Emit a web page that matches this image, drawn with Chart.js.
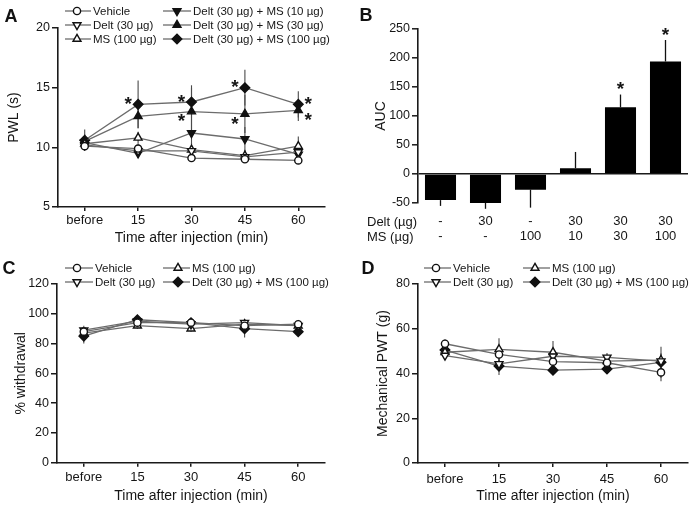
<!DOCTYPE html>
<html>
<head>
<meta charset="utf-8">
<script src="https://cdn.jsdelivr.net/npm/chart.js@4.4.1/dist/chart.umd.min.js"></script>
<style>
  html, body { margin: 0; padding: 0; background: #fff; }
  #wrap { position: relative; width: 696px; height: 508px; }
  canvas { position: absolute; }
</style>
</head>
<body>
<div id="wrap">
  <canvas id="chart-a" width="348" height="254" style="left:0;top:0"></canvas>
  <canvas id="chart-b" width="348" height="254" style="left:348px;top:0"></canvas>
  <canvas id="chart-c" width="348" height="254" style="left:0;top:254px"></canvas>
  <canvas id="chart-d" width="348" height="254" style="left:348px;top:254px"></canvas>
</div>
<script>
// categorias (tempo)
const timeLabels = ['before', '15', '30', '45', '60'];

// A - PWL (s), média e EPM
const pwlVehicle = [10.1, 9.9, 9.1, 9.0, 8.9];
const pwlVehicleSem = [0.3, 0.4, 0.3, 0.3, 0.3];
const pwlDelt = [10.2, 9.7, 9.7, 9.2, 9.6];
const pwlDeltSem = [0.4, 0.4, 0.5, 0.5, 0.5];
const pwlMs = [10.3, 10.8, 9.8, 9.3, 10.1];
const pwlMsSem = [0.4, 0.5, 0.6, 0.5, 0.8];
const pwlDeltMs10 = [10.4, 9.5, 11.2, 10.7, 9.4];
const pwlDeltMs10Sem = [0.5, 0.4, 1.2, 1.0, 0.6];
const pwlDeltMs30 = [10.5, 12.6, 13.0, 12.8, 13.1];
const pwlDeltMs30Sem = [0.6, 1.0, 2.0, 1.6, 0.9];
const pwlDeltMs100 = [10.6, 13.6, 13.8, 15.0, 13.6];
const pwlDeltMs100Sem = [0.9, 2.0, 1.4, 1.5, 1.1];
const pwlSigMs30 = [0, 0, 1, 1, 1];
const pwlSigMs100 = [0, 1, 1, 1, 1];

// B - AUC
const aucDelt = ['-', '30', '-', '30', '30', '30'];
const aucMs = ['-', '-', '100', '10', '30', '100'];
const aucValues = [-45, -50, -27, 10, 115, 194];
const aucSem = [10, 10, 31, 28, 22, 37];
const aucSig = [0, 0, 0, 0, 1, 1];

// C - % withdrawal
const wdVehicle = [88, 94, 94, 92, 93];
const wdVehicleSem = [3, 2, 2, 2, 2];
const wdDelt = [89, 95, 93, 94, 92];
const wdDeltSem = [3, 2, 3, 2, 2];
const wdMs = [87, 92, 90, 93, 92];
const wdMsSem = [3, 2, 2, 3, 2];
const wdDeltMs100 = [85, 96, 94, 90, 88];
const wdDeltMs100Sem = [5, 2, 3, 6, 2];

// D - Mechanical PWT (g)
const pwtVehicle = [53.3, 48.5, 45.3, 44.8, 40.5];
const pwtVehicleSem = [2, 3, 3, 2, 4];
const pwtDelt = [48.0, 44.3, 47.7, 47.2, 45.5];
const pwtDeltSem = [2, 3, 3, 2, 3];
const pwtMs = [49.5, 50.8, 49.5, 45.5, 46.0];
const pwtMsSem = [2, 5, 5, 3, 3];
const pwtDeltMs100 = [50.5, 43.3, 41.5, 42.0, 45.0];
const pwtDeltMs100Sem = [3, 4, 2, 2, 7];

Chart.defaults.font.family = "'Liberation Sans', Arial, Helvetica, sans-serif";
Chart.defaults.color = '#161616';
const axisColor = '#1a1a1a';
const lineColor = '#6c6c6c';
const markColor = '#111';

const markers = {
  vehicle:   { pointStyle: 'circle',   rotation: 0,   radius: 3.6, fill: '#fff' },
  delt:      { pointStyle: 'triangle', rotation: 180, radius: 4.6, fill: '#fff' },
  ms:        { pointStyle: 'triangle', rotation: 0,   radius: 4.6, fill: '#fff' },
  deltMs10:  { pointStyle: 'triangle', rotation: 180, radius: 4.6, fill: markColor },
  deltMs30:  { pointStyle: 'triangle', rotation: 0,   radius: 4.6, fill: markColor },
  deltMs100: { pointStyle: 'rectRot',  rotation: 0,   radius: 4.8, fill: markColor }
};

function lineSet(label, data, sem, mk, extra) {
  return Object.assign({
    label: label,
    data: data,
    sem: sem,
    borderColor: lineColor,
    borderWidth: 1.3,
    pointStyle: mk.pointStyle,
    pointRotation: mk.rotation,
    pointRadius: mk.radius,
    pointBackgroundColor: mk.fill,
    pointBorderColor: markColor,
    pointBorderWidth: 1.4,
    tension: 0,
    fill: false
  }, extra || {});
}

// barras de erro (EPM)
const errorBars = {
  id: 'errorBars',
  beforeDatasetsDraw(chart, args, opts) {
    const ctx = chart.ctx;
    const y = chart.scales.y;
    chart.data.datasets.forEach((ds, i) => {
      if (!ds.sem) return;
      const meta = chart.getDatasetMeta(i);
      ctx.save();
      ctx.strokeStyle = opts.color || '#444';
      ctx.lineWidth = opts.width || 1.1;
      meta.data.forEach((el, j) => {
        const v = ds.data[j];
        const e = ds.sem[j];
        let lo = v - e;
        let hi = v + e;
        if (opts.oneSided) {
          if (v >= 0) lo = v; else hi = v;
        }
        ctx.beginPath();
        ctx.moveTo(el.x, y.getPixelForValue(lo));
        ctx.lineTo(el.x, y.getPixelForValue(hi));
        ctx.stroke();
      });
      ctx.restore();
    });
  }
};

// asteriscos de significância
const sigStars = {
  id: 'sigStars',
  afterDatasetsDraw(chart, args, opts) {
    const ctx = chart.ctx;
    const y = chart.scales.y;
    ctx.save();
    ctx.font = 'bold 19px ' + Chart.defaults.font.family;
    ctx.fillStyle = '#161616';
    ctx.textAlign = 'center';
    ctx.textBaseline = 'middle';
    chart.data.datasets.forEach((ds, i) => {
      if (!ds.sig) return;
      const meta = chart.getDatasetMeta(i);
      meta.data.forEach((el, j) => {
        if (!ds.sig[j]) return;
        let sx, sy;
        if (opts.mode === 'bar') {
          sx = el.x;
          sy = y.getPixelForValue(ds.data[j] + ds.sem[j]) - 9;
        } else {
          sx = el.x + (j === ds.data.length - 1 ? 10 : -10);
          sy = el.y + (ds.starDy || 0);
        }
        ctx.fillText('*', sx, sy + 4.5);
      });
    });
    ctx.restore();
  }
};

// legenda no estilo GraphPad (linha - marcador - linha)
const graphLegend = {
  id: 'graphLegend',
  afterDraw(chart, args, opts) {
    if (!opts.cols) return;
    const ctx = chart.ctx;
    ctx.save();
    ctx.font = '11.5px ' + Chart.defaults.font.family;
    ctx.textBaseline = 'middle';
    ctx.textAlign = 'left';
    chart.data.datasets.forEach((ds, i) => {
      const col = opts.cols[Math.floor(i / opts.rows.length)];
      const yy = opts.rows[i % opts.rows.length];
      ctx.strokeStyle = lineColor;
      ctx.lineWidth = 1.3;
      ctx.beginPath();
      ctx.moveTo(col.x0, yy);
      ctx.lineTo(col.x1, yy);
      ctx.stroke();
      ctx.fillStyle = ds.pointBackgroundColor;
      ctx.strokeStyle = markColor;
      ctx.lineWidth = 1.4;
      Chart.helpers.drawPoint(ctx, {
        pointStyle: ds.pointStyle,
        rotation: ds.pointRotation,
        radius: ds.pointRadius,
        borderWidth: 1.4
      }, col.mx, yy);
      ctx.fillStyle = '#161616';
      ctx.fillText(ds.label, col.tx, yy + 0.5);
    });
    ctx.restore();
  }
};

// letra do painel e rótulos extras
const panelText = {
  id: 'panelText',
  afterDraw(chart, args, opts) {
    const ctx = chart.ctx;
    ctx.save();
    ctx.fillStyle = '#111';
    ctx.textBaseline = 'middle';
    ctx.textAlign = 'center';
    ctx.font = 'bold 18px ' + Chart.defaults.font.family;
    ctx.fillText(opts.letter, opts.lx, opts.ly);
    if (opts.rowLabels) {
      ctx.textAlign = 'left';
      ctx.fillStyle = '#161616';
      ctx.font = '13px ' + Chart.defaults.font.family;
      opts.rowLabels.forEach((t, k) => ctx.fillText(t, opts.rx, opts.ry[k]));
    }
    ctx.restore();
  }
};

function lineOptions(p) {
  return {
    responsive: false,
    animation: false,
    events: [],
    layout: { padding: { left: 0, top: p.top, right: p.right, bottom: 0 } },
    plugins: {
      legend: { display: false },
      tooltip: { enabled: false },
      errorBars: { color: '#4a4a4a', width: 1.1 },
      sigStars: { mode: 'line' },
      graphLegend: { cols: p.legendCols, rows: p.legendRows },
      panelText: { letter: p.letter, lx: p.lx, ly: p.ly }
    },
    scales: {
      x: {
        offset: true,
        grid: { drawOnChartArea: false, offset: false, tickLength: 4, tickColor: axisColor, tickWidth: 1.5, lineWidth: 1.5 },
        border: { color: axisColor, width: 1.6 },
        ticks: { font: { size: 13 }, padding: p.xPad },
        title: { display: true, text: 'Time after injection (min)', font: { size: 14 }, padding: { top: 0, bottom: p.xTitlePad } },
        afterFit: (s) => { s.height = p.xHeight; }
      },
      y: {
        min: p.min,
        max: p.max,
        ticks: { stepSize: p.step, font: { size: 12.5 }, padding: 2 },
        grid: { drawOnChartArea: false, tickLength: 6, tickColor: axisColor, tickWidth: 1.5, lineWidth: 1.5 },
        border: { color: axisColor, width: 1.6 },
        title: { display: true, text: p.yTitle, font: { size: 14 }, padding: { top: p.yTitlePad, bottom: 0 } },
        afterFit: (s) => { s.width = p.yWidth; }
      }
    }
  };
}

// Painel A
new Chart(document.getElementById('chart-a'), {
  type: 'line',
  data: {
    labels: timeLabels,
    datasets: [
      lineSet('Vehicle', pwlVehicle, pwlVehicleSem, markers.vehicle),
      lineSet('Delt (30 µg)', pwlDelt, pwlDeltSem, markers.delt),
      lineSet('MS (100 µg)', pwlMs, pwlMsSem, markers.ms),
      lineSet('Delt (30 µg) + MS (10 µg)', pwlDeltMs10, pwlDeltMs10Sem, markers.deltMs10),
      lineSet('Delt (30 µg) + MS (30 µg)', pwlDeltMs30, pwlDeltMs30Sem, markers.deltMs30, { sig: pwlSigMs30, starDy: 6 }),
      lineSet('Delt (30 µg) + MS (100 µg)', pwlDeltMs100, pwlDeltMs100Sem, markers.deltMs100, { sig: pwlSigMs100, starDy: -4 })
    ]
  },
  options: lineOptions({
    top: 28, right: 23, xHeight: 47, yWidth: 58, xPad: 2, xTitlePad: 7, yTitlePad: 6,
    min: 5, max: 20, step: 5, yTitle: 'PWL (s)',
    legendRows: [11, 25, 39],
    legendCols: [{ x0: 65, x1: 91, mx: 77, tx: 93 }, { x0: 163, x1: 191, mx: 177, tx: 193 }],
    letter: 'A', lx: 11, ly: 17
  }),
  plugins: [errorBars, sigStars, graphLegend, panelText]
});

// Painel B
new Chart(document.getElementById('chart-b'), {
  type: 'bar',
  data: {
    labels: aucDelt.map((d, i) => [d, aucMs[i]]),
    datasets: [{
      label: 'AUC',
      data: aucValues,
      sem: aucSem,
      sig: aucSig,
      backgroundColor: '#000',
      borderWidth: 0,
      barPercentage: 0.69,
      categoryPercentage: 1
    }]
  },
  options: {
    responsive: false,
    animation: false,
    events: [],
    layout: { padding: { left: 0, top: 29, right: 8, bottom: 0 } },
    plugins: {
      legend: { display: false },
      tooltip: { enabled: false },
      errorBars: { color: '#111', width: 1.3, oneSided: true },
      sigStars: { mode: 'bar' },
      panelText: { letter: 'B', lx: 18, ly: 16, rowLabels: ['Delt (µg)', 'MS (µg)'], rx: 19, ry: [222, 237] }
    },
    scales: {
      x: {
        grid: { display: false, drawTicks: false, tickLength: 0 },
        border: { display: false },
        ticks: { font: { size: 13, lineHeight: 1.15 }, padding: 11 },
        afterFit: (s) => { s.height = 51; }
      },
      y: {
        min: -50,
        max: 250,
        ticks: { stepSize: 50, font: { size: 12.5 }, padding: 2 },
        grid: {
          drawOnChartArea: true,
          tickLength: 6,
          tickColor: axisColor,
          tickWidth: 1.5,
          lineWidth: 1.6,
          color: (c) => (c.tick && c.tick.value === 0 ? axisColor : 'rgba(0,0,0,0)')
        },
        border: { color: axisColor, width: 1.6 },
        title: { display: true, text: 'AUC', font: { size: 14 }, padding: { top: 25, bottom: 0 } },
        afterFit: (s) => { s.width = 70; }
      }
    }
  },
  plugins: [errorBars, sigStars, panelText]
});

// Painel C
new Chart(document.getElementById('chart-c'), {
  type: 'line',
  data: {
    labels: timeLabels,
    datasets: [
      lineSet('Vehicle', wdVehicle, wdVehicleSem, markers.vehicle),
      lineSet('Delt (30 µg)', wdDelt, wdDeltSem, markers.delt),
      lineSet('MS (100 µg)', wdMs, wdMsSem, markers.ms),
      lineSet('Delt (30 µg) + MS (100 µg)', wdDeltMs100, wdDeltMs100Sem, markers.deltMs100)
    ]
  },
  options: lineOptions({
    top: 30, right: 23, xHeight: 45.3, yWidth: 57, xPad: 3, xTitlePad: 3.5, yTitlePad: 13,
    min: 0, max: 120, step: 20, yTitle: '% withdrawal',
    legendRows: [14, 28],
    legendCols: [{ x0: 65, x1: 93, mx: 77, tx: 95 }, { x0: 163, x1: 190, mx: 178, tx: 192 }],
    letter: 'C', lx: 9, ly: 15
  }),
  plugins: [errorBars, graphLegend, panelText]
});

// Painel D
new Chart(document.getElementById('chart-d'), {
  type: 'line',
  data: {
    labels: timeLabels,
    datasets: [
      lineSet('Vehicle', pwtVehicle, pwtVehicleSem, markers.vehicle),
      lineSet('Delt (30 µg)', pwtDelt, pwtDeltSem, markers.delt),
      lineSet('MS (100 µg)', pwtMs, pwtMsSem, markers.ms),
      lineSet('Delt (30 µg) + MS (100 µg)', pwtDeltMs100, pwtDeltMs100Sem, markers.deltMs100)
    ]
  },
  options: lineOptions({
    top: 30, right: 8, xHeight: 45, yWidth: 70, xPad: 5, xTitlePad: 3.5, yTitlePad: 27,
    min: 0, max: 80, step: 20, yTitle: 'Mechanical PWT (g)',
    legendRows: [14, 28],
    legendCols: [{ x0: 76, x1: 103, mx: 88, tx: 105 }, { x0: 175, x1: 202, mx: 187, tx: 204 }],
    letter: 'D', lx: 20, ly: 15
  }),
  plugins: [errorBars, graphLegend, panelText]
});
</script>
</body>
</html>
